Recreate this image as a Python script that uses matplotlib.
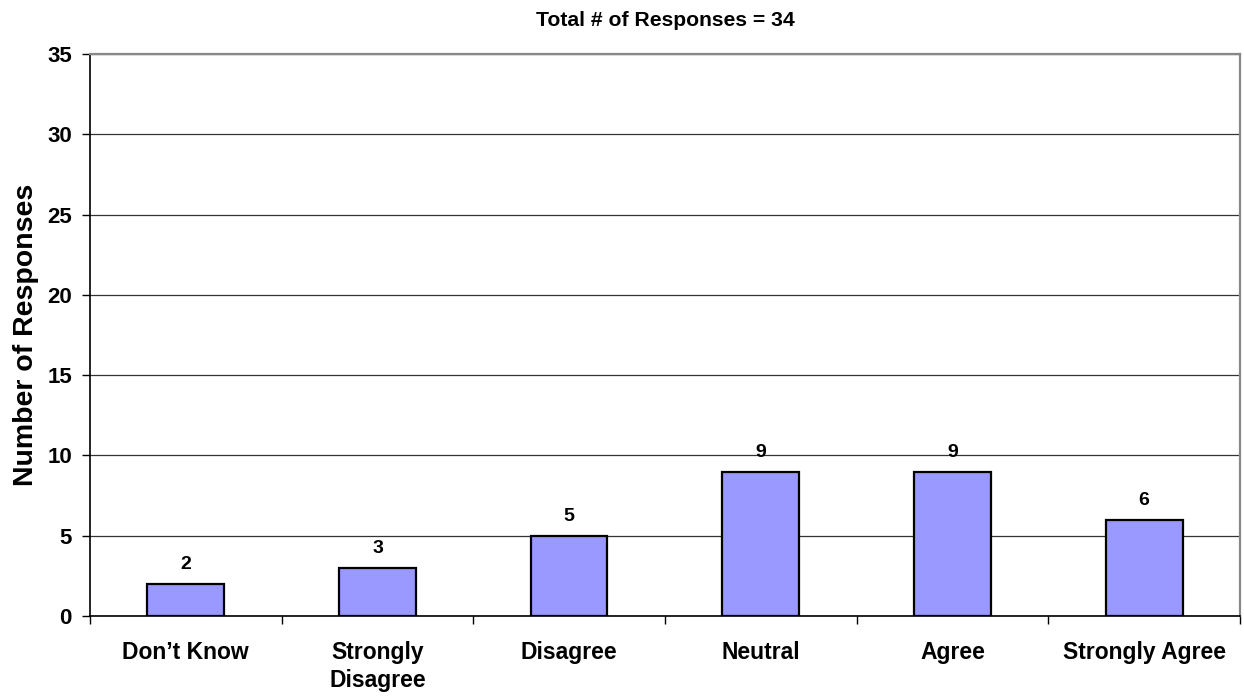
import matplotlib
matplotlib.use("Agg")
import matplotlib.pyplot as plt
from matplotlib.ticker import FixedLocator

plt.rcParams['font.family'] = ['Liberation Sans', 'DejaVu Sans']
plt.rcParams['font.weight'] = 'bold'

categories = ["Don\u2019t Know", "Strongly\nDisagree", "Disagree", "Neutral", "Agree", "Strongly Agree"]
responses = [2, 3, 5, 9, 9, 6]
y_ticks = [0, 5, 10, 15, 20, 25, 30, 35]
title_text = "Total # of Responses = 34"

fig = plt.figure(figsize=(12.44, 6.96), dpi=100)
ax = fig.add_axes([0.0723, 0.1149, 0.9245, 0.8075])

x = list(range(len(categories)))
ax.bar(x, responses, width=0.4, color="#9999FF", edgecolor="black", linewidth=1.6, zorder=3)

for xi, v in zip(x, responses):
    ax.annotate(str(v), (xi, v), xytext=(0, 10.5), textcoords="offset points",
                ha="center", va="baseline", fontsize=14, fontweight="bold")

ax.set_xlim(-0.5, len(categories) - 0.5)
ax.set_ylim(0, 35)
ax.set_yticks(y_ticks)
ax.set_yticklabels([str(t) for t in y_ticks], fontsize=16, fontweight="bold")
ax.yaxis.grid(True, color="#333333", linewidth=0.9, zorder=0)

ax.set_xticks(x)
ax.set_xticklabels(categories, fontsize=16.5, fontweight="bold", linespacing=1.25)
ax.xaxis.set_minor_locator(FixedLocator([i + 0.5 for i in range(-1, len(categories))]))
ax.tick_params(axis="x", which="major", length=0, pad=18)
ax.tick_params(axis="x", which="minor", length=5.5, width=1, direction="out")
ax.tick_params(axis="y", length=6, width=1, direction="out", pad=7)

for side in ("top", "right"):
    ax.spines[side].set_color("#888888")
    ax.spines[side].set_linewidth(1.6)
for side in ("left", "bottom"):
    ax.spines[side].set_color("black")
    ax.spines[side].set_linewidth(1.2)

ax.set_ylabel("Number of Responses", fontsize=20.5, fontweight="bold", labelpad=6)
ax.set_title(title_text, fontsize=15.2, fontweight="bold", pad=20)

fig.savefig("out.png", dpi=100)
